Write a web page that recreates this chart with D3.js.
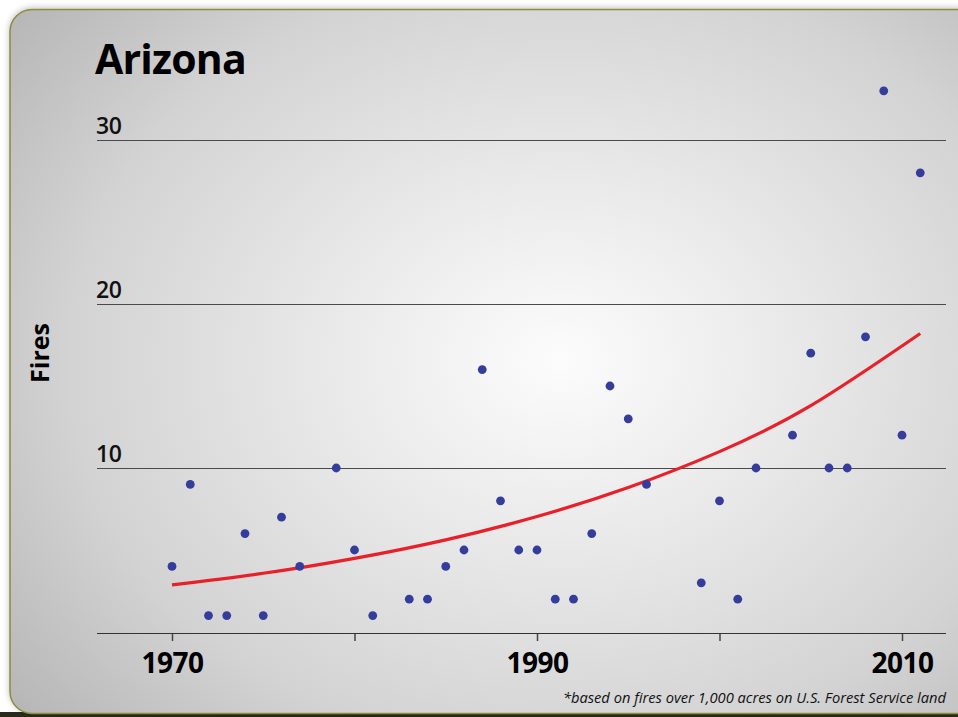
<!DOCTYPE html>
<html><head><meta charset="utf-8">
<script src="https://cdn.jsdelivr.net/npm/d3@7"></script>
<style>html,body{margin:0;padding:0;background:#fff;}svg{display:block;}</style>
</head><body>
<script>
const years = [1970,1971,1972,1973,1974,1975,1976,1977,1979,1980,1981,1983,1984,1985,1986,1987,1988,1989,1990,1991,1992,1993,1994,1995,1996,1999,2000,2001,2002,2004,2005,2006,2007,2008,2009,2010,2011];
const fires = [4,9,1,1,6,1,7,4,10,5,1,2,2,4,5,16,8,5,5,2,2,6,15,13,9,3,8,2,10,12,17,10,10,18,33,12,28];
const trendYears = [1970,1975,1980,1985,1990,1995,2000,2005,2011];
const trendValues = [2.87,3.58,4.49,5.62,7.04,8.81,11.0,13.8,18.2];
const yTicks = [10,20,30];
const xTickYears = [1970,1980,1990,2000,2010];
const xLabelYears = [1970,1990,2010];
const title = "Arizona";
const yTitle = "Fires";
const footnote = "*based on fires over 1,000 acres on U.S. Forest Service land";

const W = 958, H = 717;
const svg = d3.select("body").append("svg").attr("width", W).attr("height", H);
const defs = svg.append("defs");
const grad = defs.append("radialGradient").attr("id","bg")
  .attr("gradientUnits","userSpaceOnUse").attr("cx",560).attr("cy",360).attr("r",700)
  .attr("gradientTransform","translate(560,360) scale(1,0.8) translate(-560,-360)");
grad.append("stop").attr("offset","0%").attr("stop-color","#fcfcfc");
grad.append("stop").attr("offset","35%").attr("stop-color","#e8e8e8");
grad.append("stop").attr("offset","70%").attr("stop-color","#d3d3d3");
grad.append("stop").attr("offset","100%").attr("stop-color","#b6b6b6");

const filt = defs.append("filter").attr("id","sh").attr("x","-5%").attr("y","-5%").attr("width","110%").attr("height","110%");
filt.append("feDropShadow").attr("dx",0).attr("dy",-1).attr("stdDeviation",3).attr("flood-color","#000").attr("flood-opacity",0.25);

svg.append("rect").attr("x",0).attr("y",712).attr("width",W).attr("height",5).attr("fill","#2a2a1a");
svg.append("rect").attr("x",10).attr("y",9.5).attr("width",970).attr("height",704)
  .attr("rx",22).attr("ry",22).attr("fill","url(#bg)").attr("stroke","#8c8c3c").attr("stroke-width",1.5)
  .attr("filter","url(#sh)");

const x = d3.scaleLinear().domain([1970,2010]).range([172,902]);
const y = d3.scaleLinear().domain([0,30]).range([632,140]);
const x0 = 97, x1 = 946;

const font = "'Open Sans', 'Noto Sans', sans-serif";

// gridlines
svg.append("g").selectAll("line").data(yTicks).join("line")
  .attr("x1",x0).attr("x2",x1).attr("y1",d=>y(d)+0.5).attr("y2",d=>y(d)+0.5)
  .attr("stroke","#4a4a4a").attr("stroke-width",1.2);
svg.append("g").selectAll("text").data(yTicks).join("text")
  .attr("x",x0-1).attr("y",d=>y(d)-6).text(d=>d)
  .attr("font-family",font).attr("font-weight",600).attr("font-size",23).attr("fill","#111")
  .attr("letter-spacing",-0.5);

// x axis
const xAxis = d3.axisBottom(x).tickValues(xTickYears).tickSize(8).tickFormat(d=>xLabelYears.includes(d)?d:"");
const gx = svg.append("g").attr("transform",`translate(0,${y(0)+1})`).call(xAxis);
gx.select(".domain").remove();
gx.append("line").attr("x1",x0).attr("x2",x1).attr("y1",0.5).attr("y2",0.5).attr("stroke","#333").attr("stroke-width",1.2);
gx.selectAll(".tick line").attr("stroke","#444").attr("stroke-width",1.5);
gx.selectAll(".tick text").attr("font-family",font).attr("font-weight","bold").attr("font-size",28)
  .attr("fill","#000").attr("dy",0).attr("y",40).attr("letter-spacing",-0.5);

// trend
const line = d3.line().x((d,i)=>x(trendYears[i])).y(d=>y(d)).curve(d3.curveNatural);
svg.append("path").attr("d",line(trendValues)).attr("fill","none").attr("stroke","#e8202a").attr("stroke-width",3.2);

// points
svg.append("g").selectAll("circle").data(fires).join("circle")
  .attr("cx",(d,i)=>x(years[i])).attr("cy",d=>y(d)).attr("r",4.4).attr("fill","#343c9c");

// title
svg.append("text").attr("x",95).attr("y",74).text(title)
  .attr("font-family",font).attr("font-weight","bold").attr("font-size",41).attr("fill","#000").attr("letter-spacing",-0.8);
svg.append("text").attr("transform","translate(49,353) rotate(-90)").attr("text-anchor","middle").text(yTitle)
  .attr("font-family",font).attr("font-weight","bold").attr("font-size",25).attr("fill","#000");
svg.append("text").attr("x",946).attr("y",703).attr("text-anchor","end").text(footnote)
  .attr("font-family",font).attr("font-style","italic").attr("font-size",14.7).attr("fill","#111");
</script>
</body></html>
